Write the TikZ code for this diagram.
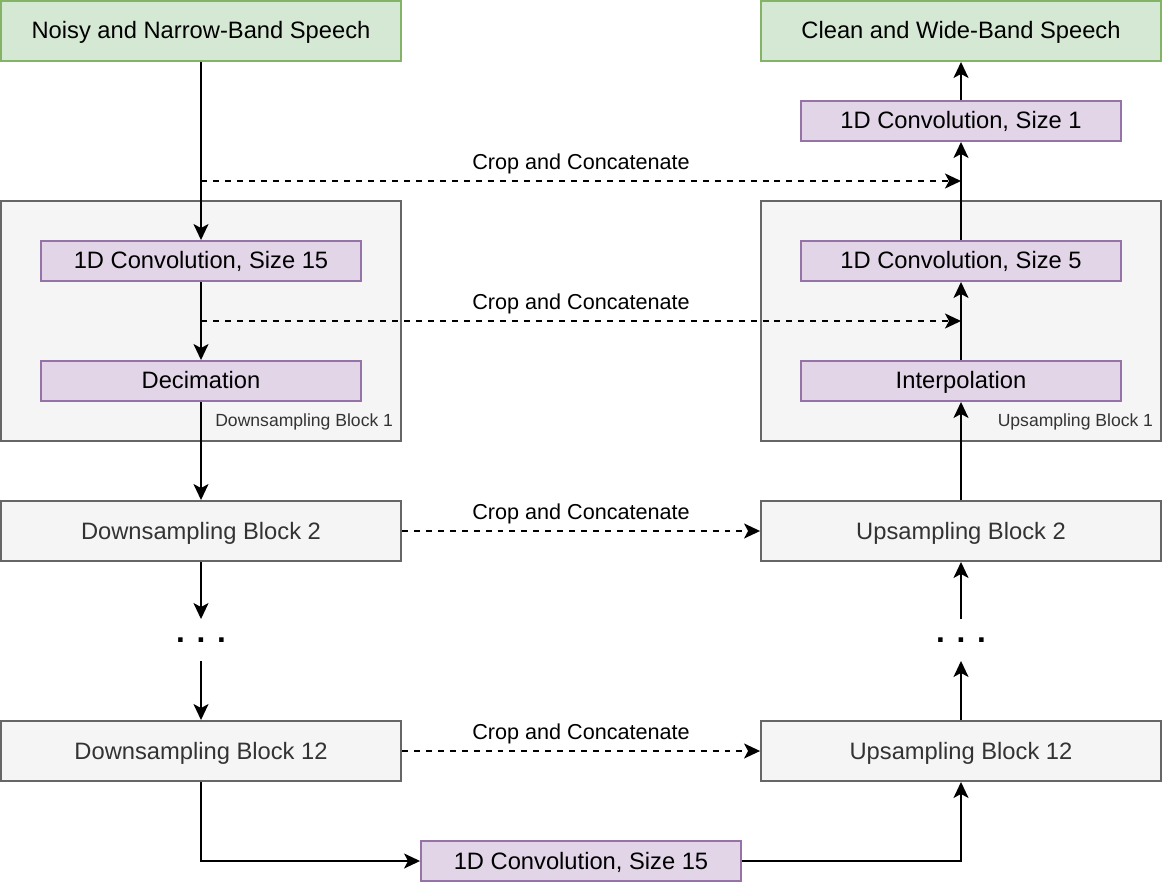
\documentclass[tikz,border=0pt]{standalone}
\usepackage{fontspec}
\setmainfont{Liberation Sans}
\usetikzlibrary{arrows.meta}
\definecolor{iofill}{HTML}{D5E8D4}
\definecolor{iodraw}{HTML}{82B366}
\definecolor{opfill}{HTML}{E1D5E7}
\definecolor{opdraw}{HTML}{9673A6}
\definecolor{blkfill}{HTML}{F5F5F5}
\definecolor{blkdraw}{HTML}{666666}
\definecolor{blktext}{HTML}{333333}

\begin{document}
\begin{tikzpicture}[x=0.02cm,y=-0.02cm,line width=1.1pt,
  every node/.style={font=\fontsize{13.5}{16}\selectfont},
  box/.style={text height=0.73em+1.8pt,text depth=0pt},
  io/.style={box,draw=iodraw,fill=iofill,minimum width=8cm,minimum height=1.2cm},
  op/.style={box,draw=opdraw,fill=opfill,minimum width=6.4cm,minimum height=0.8cm},
  blk/.style={box,draw=blkdraw,fill=blkfill,text=blktext,minimum width=8cm,minimum height=1.2cm},
  group/.style={draw=blkdraw,fill=blkfill,minimum width=8cm,minimum height=4.8cm},
  grouplabel/.style={anchor=east,text=blktext,font=\fontsize{10}{12}\selectfont,inner sep=0pt},
  dots/.style={minimum height=0.8cm,inner sep=0pt,font=\fontsize{18}{20}\selectfont\bfseries},
  skiplabel/.style={midway,above,font=\fontsize{12.3}{14}\selectfont},
  arr/.style={-{Stealth[length=0.32cm,width=0.3cm,inset=0.08cm]}},
  skip/.style={arr,dash pattern=on 3.4pt off 3.4pt}]
\useasboundingbox (0,0) rectangle (1162,882);

% containers
\node[group] (dgrp) at (201,321) {};
\node[grouplabel] at (394,422) {Downsampling Block 1};
\node[group] (ugrp) at (961,321) {};
\node[grouplabel] at (1154,422) {Upsampling Block 1};

% left column
\node[io] (noisy) at (201,31) {Noisy and Narrow-Band Speech};
\node[op] (conv15) at (201,261) {1D Convolution, Size 15};
\node[op] (dec) at (201,381) {Decimation};
\node[blk] (ds2) at (201,531) {Downsampling Block 2};
\node[dots] (dl) at (201,640) {. . .};
\node[blk] (ds12) at (201,751) {Downsampling Block 12};

% right column
\node[io] (clean) at (961,31) {Clean and Wide-Band Speech};
\node[op] (conv1) at (961,121) {1D Convolution, Size 1};
\node[op] (conv5) at (961,261) {1D Convolution, Size 5};
\node[op] (interp) at (961,381) {Interpolation};
\node[blk] (us2) at (961,531) {Upsampling Block 2};
\node[dots] (dr) at (961,640) {. . .};
\node[blk] (us12) at (961,751) {Upsampling Block 12};

\node[op] (bott) at (581,861) {1D Convolution, Size 15};

\coordinate (t1) at (201,181);
\coordinate (h1) at (961,181);
\coordinate (t2) at (201,321);
\coordinate (h2) at (961,321);

% down path
\draw[arr] (noisy) -- (conv15);
\draw[arr] (conv15) -- (dec);
\draw[arr] (dec) -- (ds2);
\draw[arr] (ds2) -- (dl);
\draw[arr] (dl) -- (ds12);
\draw[arr] (ds12.south) |- (bott.west);
\draw[arr] (bott.east) -| (us12.south);

% up path
\draw[arr] (us12) -- (dr);
\draw[arr] (dr) -- (us2);
\draw[arr] (us2) -- (interp);
\draw[arr] (interp) -- (conv5);
\draw[arr] (conv5) -- (conv1);
\draw[arr] (conv1) -- (clean);

% skip connections
\draw[skip] (t1) -- (h1) node[skiplabel] {Crop and Concatenate};
\draw[skip] (t2) -- (h2) node[skiplabel] {Crop and Concatenate};
\draw[skip] (ds2) -- (us2) node[skiplabel] {Crop and Concatenate};
\draw[skip] (ds12) -- (us12) node[skiplabel] {Crop and Concatenate};
\end{tikzpicture}
\end{document}
